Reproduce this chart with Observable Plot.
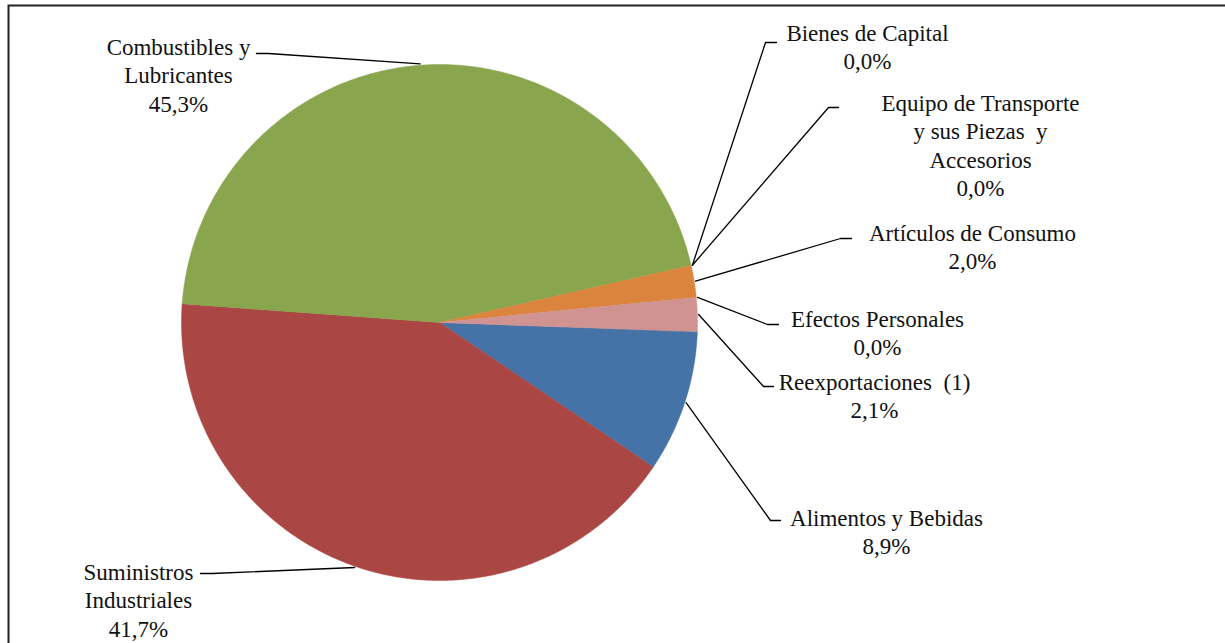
<!DOCTYPE html>
<html>
<head>
<meta charset="utf-8">
<script src="https://cdn.jsdelivr.net/npm/d3@7"></script>
<script src="https://cdn.jsdelivr.net/npm/@observablehq/plot@0.6"></script>
<style>
  html, body { margin: 0; padding: 0; background: #fff; }
  #chart { width: 1225px; height: 643px; overflow: hidden; font-family: "Liberation Serif", serif; }
</style>
</head>
<body>
<div id="chart"></div>
<script>
// ---- data ----
const categories = [
  "Alimentos y Bebidas",
  "Suministros\nIndustriales",
  "Combustibles y\nLubricantes",
  "Bienes de Capital",
  "Equipo de Transporte\ny sus Piezas  y\nAccesorios",
  "Artículos de Consumo",
  "Efectos Personales",
  "Reexportaciones  (1)"
];
const shares = [8.9, 41.7, 45.3, 0.0, 0.0, 2.0, 0.0, 2.1];
const colors = ["#4572A7", "#AA4643", "#89A54E", "#80699B", "#3D96AE", "#DB843D", "#92A8CD", "#D09392"];

// ---- label layout (offsets from pie centre, in pixel units of the x/y scales) ----
const labelCenter = [[447, 194], [-301, 248], [-261, -277], [428, -291], [541, -221], [533, -91], [438, -5], [435, 58]];
const leaderElbow = [[331, 198], [-227, 251], [-171, -269], [326, -280], [389, -215], [401, -84], [328, 2], [324, 64]];
const leaderEnd   = [[341, 198], [-239, 251], [-183, -269], [337, -280], [399, -215], [412, -84], [339, 2], [334, 64]];

const W = 1225, H = 643;
const cx = 439, cy = 322;   // pie centre in the page
const R = 258;              // pie radius
const startDeg = 92;        // first slice starts just below 3 o'clock
const fontSize = 23, lineH = 28.5;
const serif = "Liberation Serif";

const data = categories.map((name, i) => ({name, value: shares[i], color: colors[i]}));
const arcs = d3.pie().sort(null).value(d => d.value)
  .startAngle(startDeg * Math.PI / 180)
  .endAngle(startDeg * Math.PI / 180 + 2 * Math.PI)(data);

// polygon points for each slice
const slicePts = [];
arcs.forEach((a, i) => {
  if (a.endAngle - a.startAngle <= 0) return;
  const n = Math.max(2, Math.ceil((a.endAngle - a.startAngle) / 0.005));
  slicePts.push({name: a.data.name, x: 0, y: 0});
  for (let k = 0; k <= n; k++) {
    const t = a.startAngle + (a.endAngle - a.startAngle) * k / n;
    slicePts.push({name: a.data.name, x: R * Math.sin(t), y: -R * Math.cos(t)});
  }
});

// leader lines
const leaderPts = [];
arcs.forEach((a, i) => {
  const m = (a.startAngle + a.endAngle) / 2;
  const r0 = R * 1.005;
  leaderPts.push({name: a.data.name, x: r0 * Math.sin(m), y: -r0 * Math.cos(m)});
  leaderPts.push({name: a.data.name, x: leaderElbow[i][0], y: leaderElbow[i][1]});
  leaderPts.push({name: a.data.name, x: leaderEnd[i][0], y: leaderEnd[i][1]});
});

const fmt = v => d3.format(".1f")(v).replace(".", ",") + "%";
const labels = data.map((d, i) => {
  const text = d.name + "\n" + fmt(d.value);
  const nLines = text.split("\n").length;
  return {text, x: labelCenter[i][0], y: labelCenter[i][1] + (nLines - 1) * lineH / 2};
});

const chart = Plot.plot({
  width: W, height: H,
  margin: 0,
  x: {domain: [-cx, W - cx], range: [0, W], axis: null},
  y: {domain: [-cy, H - cy], range: [0, H], axis: null},
  color: {domain: categories, range: colors},
  style: {background: "#fff"},
  marks: [
    Plot.line(slicePts, {x: "x", y: "y", z: "name", fill: "name", stroke: "name", strokeWidth: 0.5, curve: "linear-closed"}),
    Plot.line(leaderPts, {x: "x", y: "y", z: "name", stroke: "#000", strokeWidth: 1.3}),
    Plot.text(labels, {x: "x", y: "y", text: "text", fill: "#111", fontSize, fontFamily: serif, lineHeight: lineH / fontSize, textAnchor: "middle", lineAnchor: "middle"}),
    Plot.frame({stroke: "#222", strokeWidth: 2, insetLeft: 8, insetTop: 5, insetRight: -10, insetBottom: -10})
  ]
});
chart.setAttribute("font-family", serif);
chart.querySelectorAll("text, tspan").forEach(el => {
  el.setAttribute("font-family", serif);
  el.style.fontFamily = serif;
});
document.getElementById("chart").appendChild(chart);
</script>
</body>
</html>
